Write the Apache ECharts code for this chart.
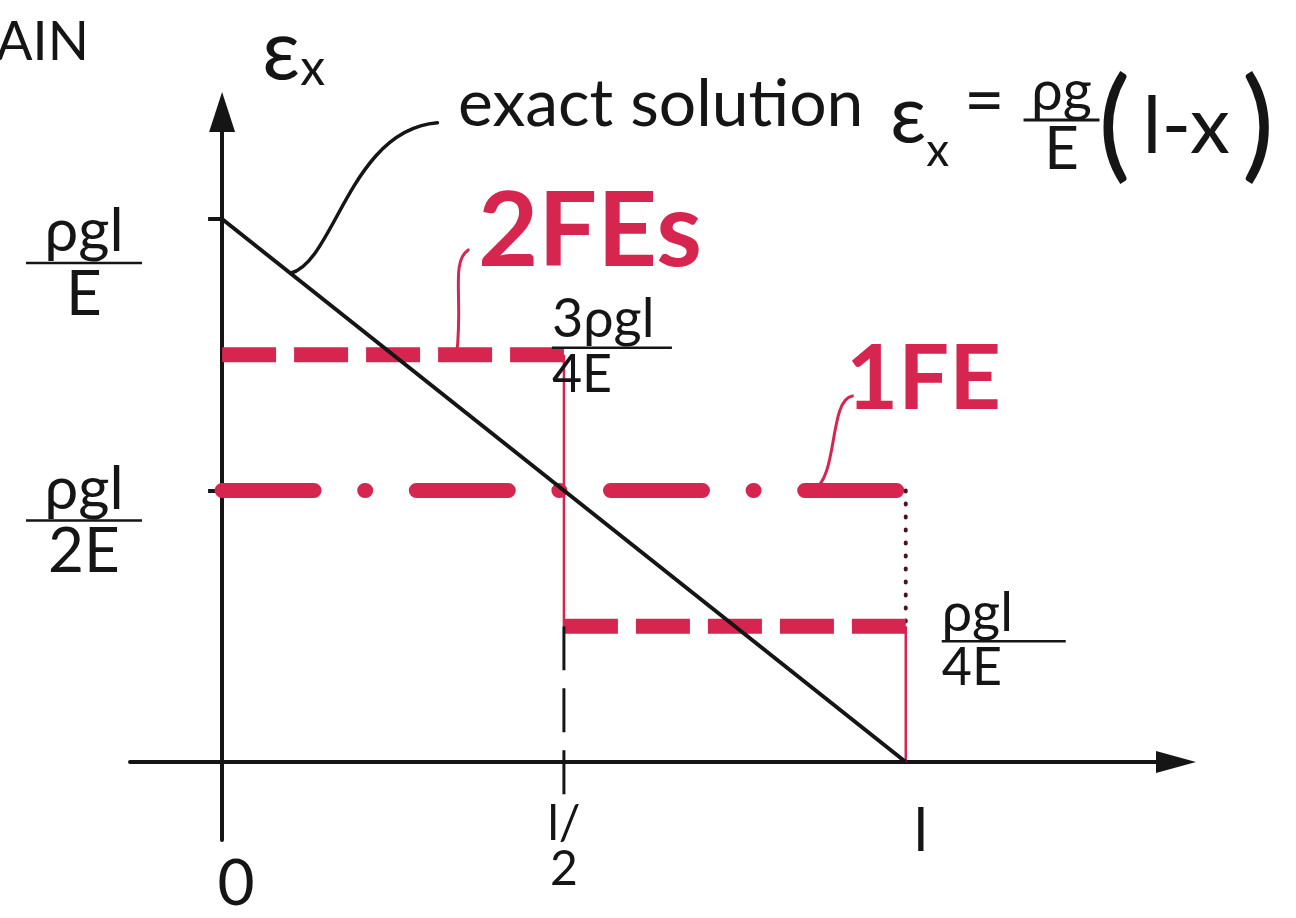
<!DOCTYPE html>
<html>
<head>
<meta charset="utf-8">
<script src="https://cdn.jsdelivr.net/npm/echarts@6/dist/echarts.min.js"></script>
<style>
  html, body { margin: 0; padding: 0; background: #ffffff; }
  #chart { width: 1296px; height: 918px; }
</style>
</head>
<body>
<div id="chart"></div>
<script>
// Positions along the bar, in units of l
const xNodes = [0, 0.5, 1];
// Exact strain at x = 0 and x = l, in units of ρgl/E
const exactValues = [1, 0];
// Constant strain of each element, two-element mesh
const twoElementValues = [0.75, 0.25];
// Constant strain of the single element
const oneElementValues = [0.5];

// Tick positions and their labels
const xTickValues = [0, 0.5, 1];
const xTickLabels = ['0', 'l/2', 'l'];
const yTickValues = [1, 0.5];
const yTickLabels = [['ρgl', 'E'], ['ρgl', '2E']];
// Value labels at the end of each two-element segment (numerator, denominator)
const twoElementLabels = [['3ρgl', '4E'], ['ρgl', '4E']];

const RED = '#d6264f';
const INK = '#151515';
const FONT = 'Lato, "Noto Sans", sans-serif';

// Leader curves from the lines to their captions: start, control 1, control 2, end (data units)
const exactLeader = [[0.1, 0.9, 0.165, 0.921, 0.187, 1.164, 0.315, 1.177]];
const elementLeaders = [
  [0.343, 0.75, 0.353, 0.851, 0.334, 0.921, 0.360, 0.943],
  [0.864, 0.5, 0.902, 0.523, 0.887, 0.667, 0.922, 0.674]
];

const chart = echarts.init(document.getElementById('chart'), null, { renderer: 'canvas' });

function fraction(num, den, key) {
  return '{' + key + 'n|' + num + '}\n{' + key + 'hr|}\n{' + key + 'd|' + den + '}';
}

function leaderSeries(data, color, width) {
  return {
    type: 'custom',
    coordinateSystem: 'cartesian2d',
    data: data,
    encode: { x: 0, y: 1 },
    silent: true,
    z: 6,
    renderItem: function (params, api) {
      const p0 = api.coord([api.value(0), api.value(1)]);
      const c1 = api.coord([api.value(2), api.value(3)]);
      const c2 = api.coord([api.value(4), api.value(5)]);
      const p1 = api.coord([api.value(6), api.value(7)]);
      return {
        type: 'bezierCurve',
        shape: { x1: p0[0], y1: p0[1], cpx1: c1[0], cpy1: c1[1], cpx2: c2[0], cpy2: c2[1], x2: p1[0], y2: p1[1] },
        style: { stroke: color, lineWidth: width, fill: null, lineCap: 'round' }
      };
    }
  };
}

const fracRich = function (key, w, nSize, dSize, align) {
  const r = {};
  r[key + 'n'] = { fontFamily: FONT, fontSize: nSize, lineHeight: nSize + 2, color: INK, width: w, align: align || 'center' };
  r[key + 'hr'] = { width: w, height: 0, borderColor: INK, borderWidth: 2.5 };
  r[key + 'd'] = { fontFamily: FONT, fontSize: dSize, lineHeight: dSize + 2, color: INK, width: w, align: align || 'center' };
  return r;
};

const series = [];

// One finite element: constant strain, dash-dot
series.push({
  type: 'line',
  name: '1FE',
  data: [[xNodes[0], oneElementValues[0]], [xNodes[2], oneElementValues[0]]],
  symbol: 'none',
  lineStyle: { color: RED, width: 15, type: [92, 50.6, 1, 50.6], cap: 'round' },
  z: 3
});
// Drop of the one-element solution at x = l, dotted
series.push({
  type: 'line',
  data: [[xNodes[2], oneElementValues[0]], [xNodes[2], twoElementValues[1]]],
  symbol: 'none',
  lineStyle: { color: '#4a1422', width: 4, type: [1, 12], cap: 'round' },
  z: 3
});

// Two finite elements: constant strain in each, thick dashes
twoElementValues.forEach(function (v, i) {
  const lab = twoElementLabels[i];
  const key = 'e' + i;
  series.push({
    type: 'line',
    name: '2FEs',
    data: [[xNodes[i], v], [xNodes[i + 1], v]],
    symbol: 'none',
    lineStyle: { color: RED, width: 15, type: [54, 18], cap: 'butt' },
    endLabel: {
      show: true,
      distance: i === 0 ? 0 : 36,
      offset: i === 0 ? [-12, -8] : [0, 14],
      formatter: fraction(lab[0], lab[1], key),
      rich: fracRich(key, i === 0 ? 120 : 124, 54, 52, 'left')
    },
    z: 3
  });
});
// Jumps between the element values, thin solid
series.push({
  type: 'line',
  data: [[xNodes[1], twoElementValues[0]], [xNodes[1], twoElementValues[1]]],
  symbol: 'none',
  lineStyle: { color: RED, width: 2.5 },
  z: 3
});
series.push({
  type: 'line',
  data: [[xNodes[2], twoElementValues[1]], [xNodes[2], 0]],
  symbol: 'none',
  lineStyle: { color: RED, width: 2.5 },
  z: 3
});
// Guide down to the l/2 tick
series.push({
  type: 'line',
  data: [[xNodes[1], twoElementValues[1]], [xNodes[1], -0.08]],
  symbol: 'none',
  lineStyle: { color: INK, width: 3, type: [44, 18] },
  z: 4
});

// Exact solution, linear in x
series.push({
  type: 'line',
  name: 'exact',
  data: [[xNodes[0], exactValues[0]], [xNodes[2], exactValues[1]]],
  symbol: 'none',
  lineStyle: { color: INK, width: 4 },
  z: 5
});

series.push(leaderSeries(exactLeader, INK, 3.5));
series.push(leaderSeries(elementLeaders, RED, 3));

const yRich = fracRich('y', 116, 60, 62);
yRich.ysp0 = { height: 90, lineHeight: 90 };
yRich.ysp1 = { height: 62, lineHeight: 62 };

const option = {
  animation: false,
  backgroundColor: '#ffffff',
  grid: { left: 130, right: 120, top: 112, bottom: 78, containLabel: false, outerBoundsMode: 'none' },
  xAxis: {
    type: 'value',
    min: -0.1347,
    max: 1.3953,
    splitLine: { show: false },
    axisLine: { onZero: true, symbol: ['none', 'triangle'], symbolSize: [22, 40], lineStyle: { color: INK, width: 4 } },
    axisTick: { show: false },
    axisLabel: {
      customValues: xTickValues,
      margin: -38,
      formatter: function (v) {
        const i = xTickValues.indexOf(v);
        if (i === 0) return '{zsp|}\n{z|' + xTickLabels[0] + '}';
        if (i === 1) { const parts = xTickLabels[1].split('/'); return '{h|' + parts[0] + '/}\n{h|' + parts[1] + '}'; }
        return '{l|' + xTickLabels[2] + '}';
      },
      rich: {
        zsp: { height: 50, lineHeight: 50 },
        z: { fontFamily: FONT, fontSize: 64, lineHeight: 64, color: INK, padding: [0, 0, 0, 28] },
        h: { fontFamily: FONT, fontSize: 48, lineHeight: 45, color: INK, align: 'center' },
        l: { fontFamily: FONT, fontSize: 60, lineHeight: 60, color: INK, padding: [0, 0, 0, 30] }
      }
    }
  },
  yAxis: {
    type: 'value',
    min: -0.1436,
    max: 1.197,
    splitLine: { show: false },
    name: '{e|ε}{x|x}',
    nameLocation: 'end',
    nameGap: 18,
    nameTextStyle: {
      align: 'left',
      padding: [0, 0, 0, 40],
      rich: {
        e: { fontFamily: FONT, fontSize: 84, color: INK, verticalAlign: 'bottom' },
        x: { fontFamily: FONT, fontSize: 50, color: INK, verticalAlign: 'bottom' }
      }
    },
    axisLine: { onZero: true, symbol: ['none', 'triangle'], symbolSize: [26, 40], lineStyle: { color: INK, width: 4 } },
    axisTick: { customValues: yTickValues, length: 14, lineStyle: { color: INK, width: 4 } },
    axisLabel: {
      customValues: yTickValues,
      margin: -12,
      align: 'right',
      formatter: function (v) {
        const i = yTickValues.indexOf(v);
        return '{ysp' + i + '|}\n' + fraction(yTickLabels[i][0], yTickLabels[i][1], 'y');
      },
      rich: yRich
    }
  },
  graphic: [
    { type: 'text', left: -4, top: 16, style: { text: 'AIN', font: '54px ' + FONT, fill: INK } },
    { type: 'text', left: 458, top: 72, style: { text: 'exact solution', font: '66px ' + FONT, fill: INK } },
    {
      type: 'text', left: 890, top: 76,
      style: {
        text: '{e|ε}{x|x}',
        rich: {
          e: { fontFamily: FONT, fontSize: 80, fill: INK, verticalAlign: 'bottom' },
          x: { fontFamily: FONT, fontSize: 46, fill: INK, verticalAlign: 'bottom', padding: [0, 0, -18, 0] }
        }
      }
    },
    { type: 'text', left: 964, top: 66, style: { text: '=', font: '70px ' + FONT, fill: INK } },
    {
      type: 'text', left: 1022, top: 64,
      style: {
        text: '{n|ρg}\n{hr|}\n{d|E}',
        rich: {
          n: { fontFamily: FONT, fontSize: 56, lineHeight: 56, fill: INK, width: 76, align: 'center' },
          hr: { width: 76, height: 0, borderColor: INK, borderWidth: 3 },
          d: { fontFamily: FONT, fontSize: 60, lineHeight: 60, fill: INK, width: 76, align: 'center' }
        }
      }
    },
    {
      type: 'text', left: 1098, top: 66,
      style: {
        text: '{p|(}{t|l-x}{p|)}',
        rich: {
          p: { fontFamily: FONT, fontSize: 122, fill: INK, verticalAlign: 'middle' },
          t: { fontFamily: FONT, fontSize: 80, fill: INK, verticalAlign: 'middle', padding: [0, 12, 0, 12] }
        }
      }
    },
    { type: 'text', left: 478, top: 180, style: { text: '2FEs', font: 'bold 104px ' + FONT, fill: RED } },
    { type: 'text', left: 846, top: 335, style: { text: '1FE', font: 'bold 90px ' + FONT, fill: RED } }
  ],
  series: series
};

chart.setOption(option);
</script>
</body>
</html>
